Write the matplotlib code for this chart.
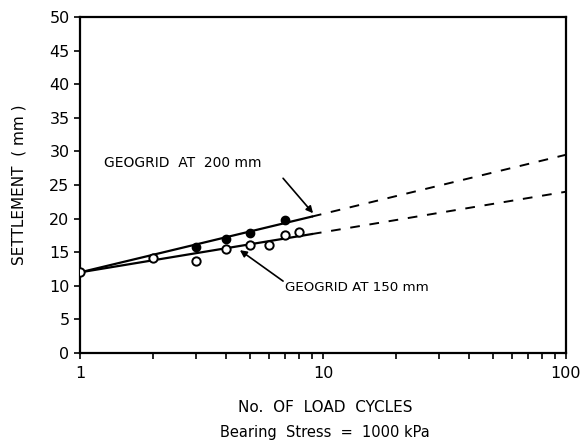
import numpy as np
import matplotlib.pyplot as plt

# measured points (load cycles, settlement mm)
cycles_200 = [3, 4, 5, 7]
settle_200 = [15.7, 16.9, 17.9, 19.8]
cycles_150 = [1, 2, 3, 4, 5, 6, 7, 8]
settle_150 = [12.0, 14.1, 13.7, 15.5, 16.1, 16.1, 17.6, 18.0]

# fitted lines: solid part then extrapolated part
fit_x_solid = [1, 9]
fit_200_solid = [12.0, 20.3]
fit_150_solid = [12.0, 17.7]
fit_x_dash = [9, 100]
fit_200_dash = [20.3, 29.5]
fit_150_dash = [17.7, 24.0]

y_ticks = list(range(0, 55, 5))

plt.rcParams['font.family'] = ['DejaVu Sans']

fig = plt.figure(figsize=(5.8, 4.42), dpi=100)
ax = fig.add_axes([80 / 580, 1 - 353 / 442, 486 / 580, 336 / 442])

ax.plot(fit_x_solid, fit_200_solid, color='black', lw=1.6)
ax.plot(fit_x_solid, fit_150_solid, color='black', lw=1.6)
ax.plot(fit_x_dash, fit_200_dash, color='black', lw=1.4, dashes=(5, 5))
ax.plot(fit_x_dash, fit_150_dash, color='black', lw=1.4, dashes=(5, 5))

ax.plot(cycles_200, settle_200, 'o', color='black', ms=6, zorder=3)
ax.plot(cycles_150, settle_150, 'o', mfc='white', mec='black', mew=1.4, ms=6, zorder=3)

ax.set_xscale('log')
ax.set_xlim(1, 100)
ax.set_ylim(0, 50)
ax.set_yticks(y_ticks)
ax.set_xticks([1, 10, 100])
ax.set_xticklabels(['1', '10', '100'])
ax.tick_params(axis='both', direction='out', length=4, width=1.2, labelsize=11.5)
ax.tick_params(axis='x', which='minor', direction='out', length=4, width=1.2)
ax.tick_params(axis='x', pad=5)
for s in ax.spines.values():
    s.set_linewidth(1.6)

ax.set_ylabel('SETTLEMENT  ( mm )', fontsize=11, labelpad=16)
fig.text(325 / 580, 1 - 408 / 442, 'No.  OF  LOAD  CYCLES', fontsize=11,
         ha='center', va='center')
fig.text(325 / 580, 1 - 433 / 442, 'Bearing  Stress  =  1000 kPa', fontsize=10.5,
         ha='center', va='center')

# labels and their arrows
ax.text(1.25, 28.2, 'GEOGRID  AT  200 mm', fontsize=10, va='center', ha='left')
ax.annotate('', xy=(9.1, 20.8), xytext=(6.85, 26.0),
            arrowprops=dict(arrowstyle='-|>', color='black', lw=1.2,
                            shrinkA=0, shrinkB=0))
ax.text(6.98, 9.7, 'GEOGRID AT 150 mm', fontsize=9.6, va='center', ha='left')
ax.annotate('', xy=(4.55, 15.3), xytext=(6.85, 10.7),
            arrowprops=dict(arrowstyle='-|>', color='black', lw=1.2,
                            shrinkA=0, shrinkB=0))

fig.savefig('out.png', dpi=100)
